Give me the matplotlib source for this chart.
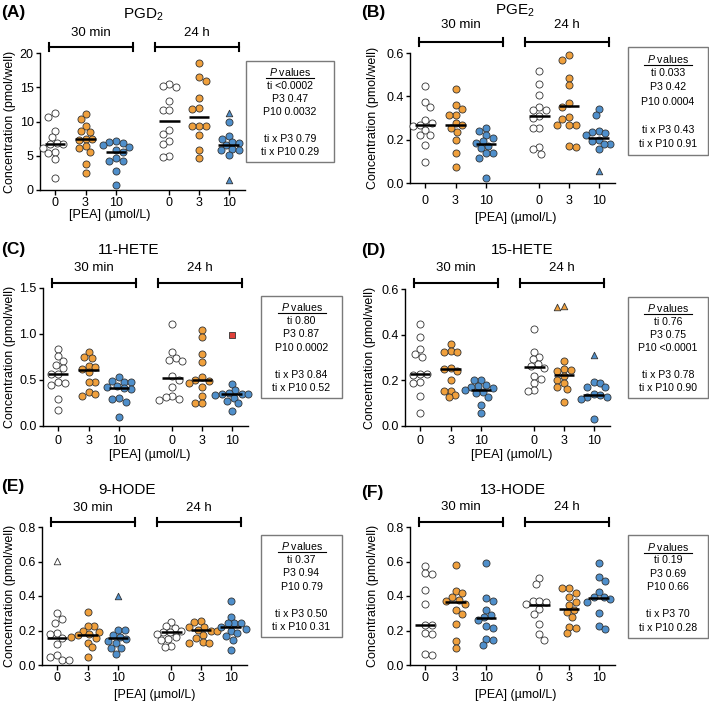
import numpy as np
import matplotlib
matplotlib.use('Agg')
import matplotlib.pyplot as plt
from matplotlib.patches import Rectangle
from matplotlib.lines import Line2D

plt.rcParams['font.family'] = ['Liberation Sans', 'DejaVu Sans']
plt.rcParams['mathtext.fontset'] = 'custom'
plt.rcParams['mathtext.rm'] = 'Liberation Sans'
plt.rcParams['mathtext.it'] = 'Liberation Sans:italic'

# ---------------- data ----------------
dose_labels = ['0', '3', '10', '0', '3', '10']
time_labels = ['30 min', '24 h']
xlabel_text = '[PEA] (\u00b5mol/L)'
ylabel_text = 'Concentration (pmol/well)'

A_title = 'PGD$_2$'
A_vals = [
    [11.2, 10.6, 8.6, 7.7, 6.9, 6.7, 6.7, 6.1, 5.6, 5.4, 4.5, 1.8],
    [11.1, 10.3, 9.3, 8.6, 8.5, 7.5, 7.4, 7.3, 6.4, 6.1, 5.6, 3.8, 2.5],
    [7.1, 7.0, 6.9, 6.5, 6.3, 5.9, 5.5, 4.6, 4.2, 4.2, 2.8, 0.7],
    [15.5, 15.2, 15.1, 13.0, 11.7, 11.7, 8.7, 8.2, 7.2, 6.7, 5.0, 4.8],
    [18.5, 16.5, 15.9, 13.5, 12.0, 11.8, 9.3, 9.3, 9.3, 8.0, 5.9, 4.7],
    [9.9, 7.9, 7.4, 7.0, 6.9, 6.5, 6.0, 5.9, 5.8, 5.1],
]
A_outliers = [[], [], [], [], [], [11.2, 1.5]]
A_centers = [6.7, 7.4, 5.5, 10.1, 10.6, 6.6]
A_yticks = [0, 5, 10, 15, 20]
A_pvals = ['ti <0.0002', 'P3 0.47', 'P10 0.0032', 'ti x P3 0.79', 'ti x P10 0.29']

B_title = 'PGE$_2$'
B_vals = [
    [0.446, 0.376, 0.351, 0.293, 0.276, 0.268, 0.262, 0.246, 0.22, 0.22, 0.176, 0.098],
    [0.436, 0.358, 0.34, 0.313, 0.312, 0.275, 0.268, 0.254, 0.234, 0.2, 0.137, 0.073],
    [0.254, 0.238, 0.223, 0.21, 0.195, 0.186, 0.172, 0.16, 0.137, 0.137, 0.117, 0.025],
    [0.516, 0.457, 0.407, 0.351, 0.337, 0.337, 0.309, 0.300, 0.254, 0.254, 0.164, 0.157, 0.134],
    [0.589, 0.569, 0.485, 0.452, 0.368, 0.352, 0.305, 0.296, 0.27, 0.27, 0.27, 0.173, 0.164],
    [0.34, 0.313, 0.242, 0.235, 0.231, 0.22, 0.20, 0.195, 0.179, 0.179, 0.157],
]
B_outliers = [[], [], [], [], [], [0.056]]
B_centers = [0.268, 0.27, 0.179, 0.307, 0.357, 0.207]
B_yticks = [0.0, 0.2, 0.4, 0.6]
B_pvals = ['ti 0.033', 'P3 0.42', 'P10 0.0004', 'ti x P3 0.43', 'ti x P10 0.91']

C_title = '11-HETE'
C_vals = [
    [0.837, 0.764, 0.707, 0.663, 0.627, 0.57, 0.56, 0.482, 0.464, 0.446, 0.29, 0.174],
    [0.808, 0.754, 0.743, 0.656, 0.638, 0.62, 0.583, 0.482, 0.482, 0.373, 0.344, 0.33],
    [0.536, 0.49, 0.482, 0.475, 0.435, 0.428, 0.41, 0.399, 0.3, 0.293, 0.261, 0.101],
    [1.105, 0.80, 0.736, 0.717, 0.706, 0.543, 0.505, 0.428, 0.33, 0.319, 0.29, 0.28],
    [1.043, 0.971, 0.783, 0.699, 0.536, 0.50, 0.489, 0.471, 0.428, 0.326, 0.246, 0.246],
    [0.457, 0.391, 0.362, 0.35, 0.348, 0.348, 0.34, 0.301, 0.275, 0.246, 0.163],
]
C_outliers = [[], [], [], [], [], [0.989]]
C_centers = [0.562, 0.609, 0.413, 0.518, 0.504, 0.348]
C_yticks = [0.0, 0.5, 1.0, 1.5]
C_pvals = ['ti 0.80', 'P3 0.87', 'P10 0.0002', 'ti x P3 0.84', 'ti x P10 0.52']

D_title = '15-HETE'
D_vals = [
    [0.447, 0.391, 0.336, 0.315, 0.301, 0.228, 0.228, 0.223, 0.194, 0.187, 0.133, 0.055],
    [0.358, 0.328, 0.326, 0.324, 0.255, 0.248, 0.24, 0.201, 0.155, 0.153, 0.135, 0.126],
    [0.201, 0.201, 0.18, 0.175, 0.169, 0.165, 0.158, 0.15, 0.146, 0.128, 0.092, 0.058],
    [0.425, 0.326, 0.304, 0.292, 0.272, 0.264, 0.255, 0.219, 0.207, 0.187, 0.158, 0.153],
    [0.286, 0.25, 0.245, 0.242, 0.22, 0.201, 0.187, 0.172, 0.161, 0.107],
    [0.191, 0.19, 0.172, 0.169, 0.14, 0.136, 0.128, 0.126, 0.117, 0.029],
]
D_outliers = [[], [], [], [], [0.526, 0.52], [0.311]]
D_centers = [0.228, 0.248, 0.158, 0.26, 0.222, 0.136]
D_yticks = [0.0, 0.2, 0.4, 0.6]
D_pvals = ['ti 0.76', 'P3 0.75', 'P10 <0.0001', 'ti x P3 0.78', 'ti x P10 0.90']

E_title = '9-HODE'
E_vals = [
    [0.30, 0.267, 0.245, 0.187, 0.18, 0.155, 0.122, 0.058, 0.044, 0.029, 0.029],
    [0.309, 0.226, 0.226, 0.20, 0.193, 0.178, 0.174, 0.164, 0.155, 0.129, 0.102, 0.048],
    [0.203, 0.203, 0.174, 0.16, 0.153, 0.141, 0.125, 0.097, 0.097, 0.064],
    [0.251, 0.225, 0.215, 0.2, 0.19, 0.189, 0.18, 0.165, 0.151, 0.145, 0.11, 0.102],
    [0.257, 0.251, 0.222, 0.222, 0.203, 0.199, 0.197, 0.174, 0.155, 0.135, 0.13, 0.13],
    [0.371, 0.28, 0.245, 0.242, 0.242, 0.218, 0.209, 0.2, 0.184, 0.168, 0.145, 0.087],
]
E_outliers = [[0.605], [], [0.40], [], [], []]
E_centers = [0.155, 0.172, 0.158, 0.189, 0.203, 0.218]
E_yticks = [0.0, 0.2, 0.4, 0.6, 0.8]
E_pvals = ['ti 0.37', 'P3 0.94', 'P10 0.79', 'ti x P3 0.50', 'ti x P10 0.31']

F_title = '13-HODE'
F_vals = [
    [0.576, 0.531, 0.526, 0.435, 0.354, 0.23, 0.23, 0.184, 0.178, 0.064, 0.058],
    [0.58, 0.429, 0.419, 0.392, 0.377, 0.371, 0.354, 0.319, 0.296, 0.238, 0.139, 0.10],
    [0.589, 0.39, 0.373, 0.319, 0.292, 0.276, 0.261, 0.226, 0.216, 0.151, 0.145, 0.116],
    [0.506, 0.47, 0.373, 0.373, 0.367, 0.355, 0.323, 0.296, 0.238, 0.178, 0.145],
    [0.444, 0.444, 0.419, 0.392, 0.367, 0.348, 0.319, 0.309, 0.28, 0.222, 0.213, 0.184],
    [0.589, 0.508, 0.489, 0.425, 0.392, 0.392, 0.38, 0.367, 0.3, 0.226, 0.207],
]
F_outliers = [[], [], [], [], [], []]
F_centers = [0.23, 0.365, 0.27, 0.348, 0.327, 0.39]
F_yticks = [0.0, 0.2, 0.4, 0.6, 0.8]
F_pvals = ['ti 0.19', 'P3 0.69', 'P10 0.66', 'ti x P3 70', 'ti x P10 0.28']

# ---------------- styling ----------------
W, H = 709, 704
fig = plt.figure(figsize=(W / 100, H / 100), dpi=100)

group_colors = ['white', '#F0A03C', '#4F8FCB', 'white', '#F0A03C', '#4F8FCB']
xpos = np.array([0, 1, 2, 3.75, 4.72, 5.7])
unit_px = 30.5
AX_W = 205

# layout in pixels (tp = tick-label centre distance below axis)
layouts = {
    'A': dict(left=40, top=53, bottom=190, tp=12.5, title=(143, 15), letter=(1, 13), tl=33, br=47,
              xl=(110, 215), yl=10, box=(246, 334, 61, 162)),
    'B': dict(left=410, top=53, bottom=183, tp=17, title=(515, 11), letter=(361, 12), tl=25, br=42,
              xl=(516, 218), yl=373, box=(628, 708, 47, 155)),
    'C': dict(left=43, top=288, bottom=426, tp=14, title=(129, 250), letter=(1, 249), tl=268, br=283,
              xl=(150, 455), yl=10, box=(261, 342, 296, 398)),
    'D': dict(left=405, top=289, bottom=426, tp=14, title=(522, 250), letter=(361, 250), tl=268, br=283,
              xl=(512, 455), yl=370, box=(628, 708, 297, 398)),
    'E': dict(left=42, top=527, bottom=665, tp=12.5, title=(127, 490), letter=(1, 487), tl=508, br=522,
              xl=(155, 695), yl=10, box=(261, 342, 535, 637)),
    'F': dict(left=410, top=527, bottom=665, tp=12.5, title=(513, 490), letter=(361, 492), tl=507, br=522,
              xl=(516, 695), yl=373, box=(628, 708, 535, 638)),
}

panels = [
    ('A', A_title, A_vals, A_outliers, A_centers, A_yticks, A_pvals, '^'),
    ('B', B_title, B_vals, B_outliers, B_centers, B_yticks, B_pvals, '^'),
    ('C', C_title, C_vals, C_outliers, C_centers, C_yticks, C_pvals, 's'),
    ('D', D_title, D_vals, D_outliers, D_centers, D_yticks, D_pvals, '^'),
    ('E', E_title, E_vals, E_outliers, E_centers, E_yticks, E_pvals, '^'),
    ('F', F_title, F_vals, F_outliers, F_centers, F_yticks, F_pvals, '^'),
]


def fx(px):
    return px / W


def fy(py):
    return 1 - py / H


def swarm(vals_px, d):
    """Simple deterministic beeswarm: returns x offsets in pixels."""
    order = np.argsort(vals_px)[::-1]
    placed = []
    offs = np.zeros(len(vals_px))
    cands = np.arange(0, 4 * d, 0.25 * d)
    for i in order:
        y = vals_px[i]
        chosen = 0.0
        for c in cands:
            ok_any = False
            for sgn in ((1,) if c == 0 else (-1, 1) if (len(placed) % 2) else (1, -1)):
                x = sgn * c
                if all((x - px_) ** 2 + (y - py_) ** 2 >= d * d for px_, py_ in placed):
                    chosen = x
                    ok_any = True
                    break
            if ok_any:
                break
        placed.append((chosen, y))
        offs[i] = chosen
    return offs


MS = 26
D_PX = 6.6

for key, title, vals, outs, centers, yticks, pvals, omark in panels:
    L = layouts[key]
    ax = fig.add_axes([fx(L['left']), fy(L['bottom']), AX_W / W, (L['bottom'] - L['top']) / H])
    ymax = yticks[-1]
    ax.set_ylim(0, ymax)
    x0 = -15 / unit_px
    ax.set_xlim(x0, x0 + AX_W / unit_px)
    pxu = (L['bottom'] - L['top']) / ymax
    for s in ('top', 'right'):
        ax.spines[s].set_visible(False)
    for s in ('left', 'bottom'):
        ax.spines[s].set_linewidth(1.0)
    ax.set_xticks(xpos)
    ax.set_xticklabels(dose_labels, fontsize=9)
    ax.set_yticks(yticks)
    if isinstance(yticks[1], float):
        ax.set_yticklabels(['%.1f' % t for t in yticks], fontsize=9)
    else:
        ax.set_yticklabels([str(t) for t in yticks], fontsize=9)
    xpad = max(0.5, (L['tp'] - 4.9 - 5.2) / 1.389)
    ax.tick_params(axis='x', length=3.5, width=1.0, pad=xpad)
    ax.tick_params(axis='y', length=3, width=1.0, pad=1.5)

    for g in range(6):
        v = np.array(vals[g], dtype=float)
        o = np.array(outs[g], dtype=float)
        allv = np.concatenate([v, o])
        offs = swarm(allv * pxu, D_PX) / unit_px
        xs = xpos[g] + offs
        fc = group_colors[g]
        ax.scatter(xs[:len(v)], v, s=MS, c=fc, edgecolors='#333333', linewidths=0.6,
                   zorder=3, clip_on=False)
        if len(o):
            ofc = '#E0413A' if omark == 's' else fc
            ax.scatter(xs[len(v):], o, s=MS * 0.85, marker=omark, c=ofc, edgecolors='#333333',
                       linewidths=0.6, zorder=3, clip_on=False)
        ax.plot([xpos[g] - 0.34, xpos[g] + 0.34], [centers[g], centers[g]], color='black',
                lw=1.8, zorder=4, solid_capstyle='butt')

    # brackets and time labels (pixel layout)
    left = L['left']
    for (a, b), lab in zip([(9, 93), (115, 199)], time_labels):
        xa, xb = left + a, left + b
        fig.add_artist(Line2D([fx(xa), fx(xb)], [fy(L['br']), fy(L['br'])], color='black', lw=1.5))
        for xe in (xa, xb):
            fig.add_artist(Line2D([fx(xe), fx(xe)], [fy(L['br'] - 4), fy(L['br'] + 4)],
                                  color='black', lw=1.5))
        fig.text(fx((xa + xb) / 2), fy(L['tl']), lab, ha='center', va='center', fontsize=9.5)

    fig.text(fx(L['title'][0]), fy(L['title'][1]), title, ha='center', va='center', fontsize=11)
    fig.text(fx(L['letter'][0]), fy(L['letter'][1]), '(%s)' % key, ha='left', va='center',
             fontsize=12.5, fontweight='bold')
    fig.text(fx(L['xl'][0]), fy(L['xl'][1]), xlabel_text, ha='center', va='center', fontsize=9)
    fig.text(fx(L['yl']), fy((L['top'] + L['bottom']) / 2), ylabel_text, ha='center',
             va='center', rotation=90, fontsize=9)

    # P value box
    bl, br_, bt, bb = L['box']
    fig.add_artist(Rectangle((fx(bl), fy(bb)), (br_ - bl) / W, (bb - bt) / H,
                             transform=fig.transFigure, fill=False, ec='#7a7a7a', lw=1.0))
    cx = (bl + br_) / 2
    step = (bb - bt) / 7.6
    y = bt + step * 0.85
    lines = ['$\\mathit{P}$ values'] + pvals[:3] + [''] + pvals[3:]
    for i, s in enumerate(lines):
        if s:
            fig.text(fx(cx), fy(y + i * step), s, ha='center', va='center', fontsize=7.6)
    fig.add_artist(Line2D([fx(cx - 24), fx(cx + 24)], [fy(y + 6), fy(y + 6)], color='black',
                          lw=0.8))

fig.savefig('out.png', dpi=100)
